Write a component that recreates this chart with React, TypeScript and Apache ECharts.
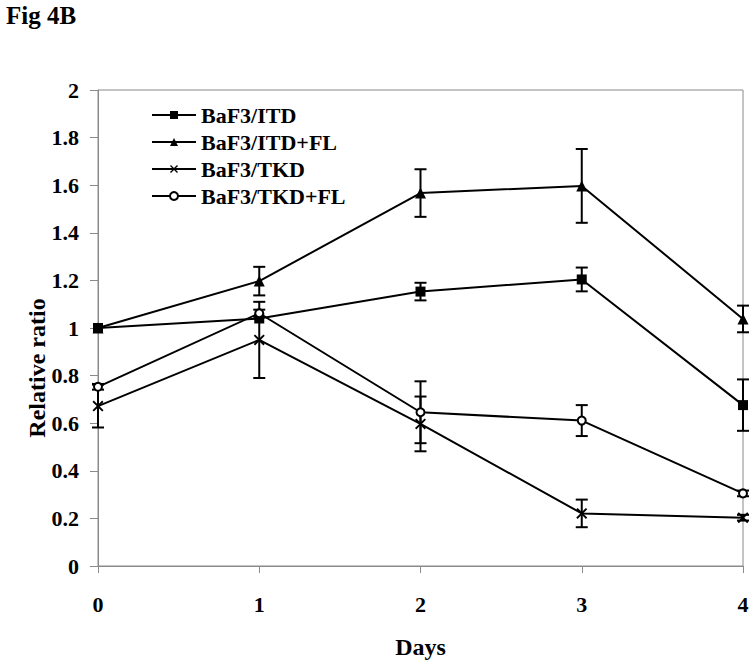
import React, { useEffect, useRef } from "react";
import * as echarts from "echarts";

const days = [0, 1, 2, 3, 4];
const seriesNames = ["BaF3/ITD", "BaF3/ITD+FL", "BaF3/TKD", "BaF3/TKD+FL"];
const itd = [1.0, 1.04, 1.153, 1.204, 0.676];
const itdErr = [0, 0, 0.037, 0.05, 0.108];
const itdFl = [1.0, 1.197, 1.567, 1.597, 1.038];
const itdFlErr = [0, 0.06, 0.1, 0.155, 0.056];
const tkd = [0.672, 0.95, 0.597, 0.221, 0.203];
const tkdErr = [0.09, 0.16, 0.115, 0.058, 0.012];
const tkdFl = [0.753, 1.062, 0.646, 0.611, 0.305];
const tkdFlErr = [0.012, 0.015, 0.13, 0.065, 0.012];

const FONT = "Liberation Serif";
const X_PATH =
  "path://M0,1.2 L1.2,0 L5,3.8 L8.8,0 L10,1.2 L6.2,5 L10,8.8 L8.8,10 L5,6.2 L1.2,10 L0,8.8 L3.8,5 Z";

export default function App() {
  const ref = useRef<HTMLDivElement>(null);
  useEffect(() => {
    if (!ref.current) return;
    const chart = echarts.init(ref.current, null, { renderer: "svg" });
    const values = [itd, itdFl, tkd, tkdFl];
    const errs = [itdErr, itdFlErr, tkdErr, tkdFlErr];
    const symbols = ["rect", "triangle", X_PATH, "emptyCircle"];
    const sizes = [10, 11, 11, 8];

    const lineSeries = values.map((vals, i) => ({
      name: seriesNames[i],
      type: "line",
      data: days.map((d, j) => [d, vals[j]]),
      symbol: symbols[i],
      symbolSize: sizes[i],
      showSymbol: true,
      lineStyle: { color: "#000", width: 2 },
      itemStyle: {
        color: "#000",
        borderColor: "#000",
        borderWidth: i === 3 ? 1.8 : 0,
      },
      z: 3,
    }));

    const errSeries = values.map((vals, i) => ({
      name: seriesNames[i] + " err",
      type: "custom",
      data: days.map((d, j) => [d, vals[j], errs[i][j]]),
      renderItem: (params: any, api: any) => {
        const x = api.value(0);
        const v = api.value(1);
        const e = api.value(2);
        if (!e) return null;
        const top = api.coord([x, v + e]);
        const bot = api.coord([x, v - e]);
        const hw = 6;
        const st = { stroke: "#000", lineWidth: 2 };
        return {
          type: "group",
          children: [
            { type: "line", shape: { x1: top[0], y1: top[1], x2: bot[0], y2: bot[1] }, style: st },
            { type: "line", shape: { x1: top[0] - hw, y1: top[1], x2: top[0] + hw, y2: top[1] }, style: st },
            { type: "line", shape: { x1: bot[0] - hw, y1: bot[1], x2: bot[0] + hw, y2: bot[1] }, style: st },
          ],
        };
      },
      z: 2,
      silent: true,
    }));

    const axisLabel = {
      color: "#000",
      fontFamily: FONT,
      fontWeight: "bold",
      fontSize: 22,
    };

    chart.setOption({
      animation: false,
      backgroundColor: "#fff",
      grid: {
        left: 98,
        right: 11,
        top: 90,
        bottom: 101,
        show: true,
        borderColor: "#8a8a8a",
        borderWidth: 1,
      },
      legend: {
        data: seriesNames,
        orient: "vertical",
        left: 151,
        top: 104,
        padding: 0,
        itemWidth: 44,
        itemHeight: 10,
        itemGap: 5,
        textStyle: { ...axisLabel, fontSize: 22, lineHeight: 22 },
      },
      xAxis: {
        type: "value",
        min: 0,
        max: 4,
        interval: 1,
        name: "Days",
        nameLocation: "middle",
        nameGap: 69,
        nameTextStyle: { ...axisLabel, fontSize: 24 },
        axisLine: { lineStyle: { color: "#8a8a8a", width: 1 } },
        axisTick: { show: true, length: 7, lineStyle: { color: "#8a8a8a" } },
        axisLabel: { ...axisLabel, margin: 27 },
        splitLine: { show: false },
      },
      yAxis: {
        type: "value",
        min: 0,
        max: 2,
        interval: 0.2,
        axisLine: { show: true, lineStyle: { color: "#8a8a8a", width: 1 } },
        axisTick: { show: true, length: 8, lineStyle: { color: "#8a8a8a" } },
        axisLabel: { ...axisLabel, margin: 19 },
        splitLine: { show: false },
      },
      graphic: [
        {
          type: "text",
          left: 6,
          top: 3,
          style: { text: "Fig 4B", font: `bold 25px ${FONT}`, fill: "#000" },
        },
        {
          type: "text",
          x: 37,
          y: 368,
          rotation: Math.PI / 2,
          style: {
            text: "Relative ratio",
            font: `bold 24px ${FONT}`,
            fill: "#000",
            align: "center",
            verticalAlign: "middle",
          },
        },
      ],
      series: [...errSeries, ...lineSeries],
    });
    return () => chart.dispose();
  }, []);
  return (
    <div
      ref={ref}
      style={{ position: "fixed", left: 0, top: 0, width: 754, height: 667, background: "#fff" }}
    />
  );
}
